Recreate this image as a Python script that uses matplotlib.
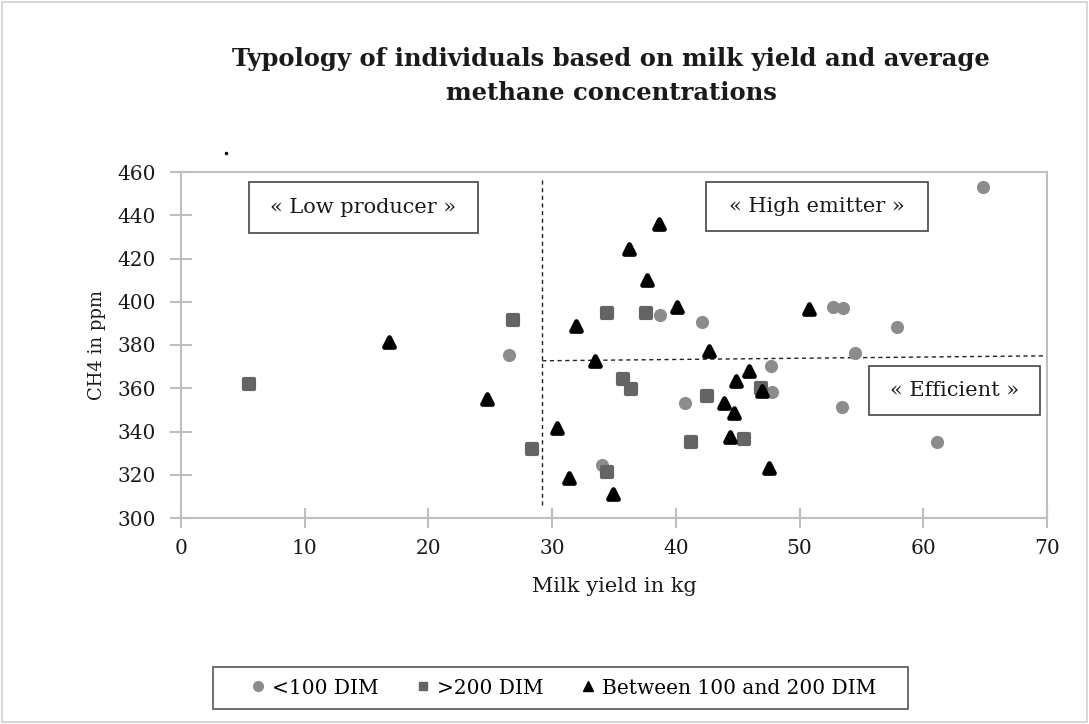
import matplotlib
matplotlib.use("Agg")
import matplotlib.pyplot as plt
from matplotlib.patches import Rectangle
from matplotlib.lines import Line2D

plt.rcParams['font.family'] = ['DejaVu Serif', 'Liberation Serif']

# <100 DIM (grey circles)
dim_lt100_x = [64.8, 26.5, 38.7, 42.1, 52.7, 53.5, 57.9, 54.5, 47.7, 47.8, 53.4, 61.1, 40.7, 34.0]
dim_lt100_y = [453.0, 375.4, 393.9, 390.6, 397.5, 397.2, 388.3, 376.3, 370.3, 358.3, 351.3, 335.1, 353.2, 324.5]

# >200 DIM (dark grey squares)
dim_gt200_x = [5.5, 26.8, 34.4, 37.6, 28.4, 35.7, 36.4, 34.4, 42.5, 41.2, 45.5, 46.9]
dim_gt200_y = [362.0, 391.6, 394.8, 394.8, 331.9, 364.3, 359.6, 321.3, 356.4, 335.1, 336.5, 360.1]

# Between 100 and 200 DIM (black triangles)
dim_mid_x = [16.8, 24.7, 38.6, 36.2, 37.7, 40.1, 31.9, 42.7, 33.5, 30.4, 31.4, 34.9,
             50.8, 45.9, 44.9, 47.0, 43.9, 44.7, 44.4, 47.5]
dim_mid_y = [381.4, 355.0, 436.0, 424.4, 410.0, 397.6, 388.8, 377.0, 372.6, 341.6, 318.5, 311.1,
             396.6, 368.0, 363.4, 358.7, 353.2, 348.6, 337.5, 323.1]

series_labels = ["<100 DIM", ">200 DIM", "Between 100 and 200 DIM"]
x_ticks = [0, 10, 20, 30, 40, 50, 60, 70]
y_ticks = [300, 320, 340, 360, 380, 400, 420, 440, 460]

W, H = 1089, 724
fig = plt.figure(figsize=(W / 100, H / 100), dpi=100)
fig.patch.set_facecolor('white')
fig.add_artist(Rectangle((2 / W, 2 / H), 1 - 4 / W, 1 - 4 / H, transform=fig.transFigure,
                         fill=False, edgecolor='#d0d0d0', linewidth=1.2))

ax = fig.add_axes([181 / W, 1 - 518 / H, 866 / W, 346 / H])
ax.set_xlim(0, 70)
ax.set_ylim(300, 460)

c1, c2, c3 = '#8c8c8c', '#646464', '#000000'
ax.scatter(dim_lt100_x, dim_lt100_y, s=90, marker='o', color=c1, linewidths=0, zorder=3,
           label=series_labels[0])
sq = ax.scatter(dim_gt200_x, dim_gt200_y, s=62, marker='s', color=c2, edgecolors=c2, linewidths=3,
                zorder=3, label=series_labels[1])
sq.set_joinstyle('round')
tr = ax.scatter(dim_mid_x, dim_mid_y, s=50, marker='^', color=c3, edgecolors=c3, linewidths=3.5,
                zorder=4, label=series_labels[2])
tr.set_joinstyle('round')

# Quadrant lines
ax.plot([29.2, 29.2], [306, 457.5], ls=(0, (3, 2.5)), color='#222222', lw=1.0, zorder=2)
ax.plot([29.2, 70], [372.7, 375.0], ls=(0, (3, 2.5)), color='#222222', lw=1.0, zorder=2)

# Quadrant labels
def box_label(x0, x1, y0, y1, text):
    ax.add_patch(Rectangle((x0, y0), x1 - x0, y1 - y0, fill=True, facecolor='white',
                           edgecolor='#444444', lw=1.2, zorder=5))
    ax.text((x0 + x1) / 2, (y0 + y1) / 2, text, ha='center', va='center', fontsize=15,
            color='#1a1a1a', zorder=6)

box_label(5.5, 24.0, 431.8, 455.4, "« Low producer »")
box_label(42.4, 60.4, 432.6, 455.4, "« High emitter »")
box_label(55.6, 69.4, 347.5, 370.3, "« Efficient »")

for side in ['left', 'bottom', 'top', 'right']:
    ax.spines[side].set_color('#bfbfbf')
    ax.spines[side].set_linewidth(1.5)
ax.set_xticks(x_ticks)
ax.set_yticks(y_ticks)
ax.tick_params(axis='x', direction='inout', length=14, width=1.5, color='#bfbfbf',
               labelsize=14.5, pad=8, labelcolor='#1a1a1a')
ax.tick_params(axis='y', direction='inout', length=16, width=1.5, color='#bfbfbf',
               labelsize=14.5, pad=10, labelcolor='#1a1a1a')
ax.set_xlabel("Milk yield in kg", fontsize=15, color='#1a1a1a', labelpad=14)
ax.set_ylabel("CH4 in ppm", fontsize=13, color='#1a1a1a', labelpad=8)

fig.text(611 / W, 1 - 76 / H,
         "Typology of individuals based on milk yield and average\nmethane concentrations",
         ha='center', va='center', fontsize=17.5, fontweight='bold', color='#1a1a1a',
         linespacing=1.5)

fig.add_artist(Line2D([226 / W], [1 - 153 / H], marker='o', markersize=1.5, color='black',
                      transform=fig.transFigure))

handles = [
    Line2D([], [], ls='none', marker='o', markersize=7, color=c1),
    Line2D([], [], ls='none', marker='s', markersize=6, color=c2),
    Line2D([], [], ls='none', marker='^', markersize=7, color=c3),
]
leg = fig.legend(handles, series_labels, loc='center', bbox_to_anchor=(563 / W, 1 - 688 / H),
                 ncol=3, frameon=False, fontsize=14.5, handlelength=0.8,
                 handletextpad=0.3, columnspacing=1.8, borderpad=0.5)
fig.add_artist(Rectangle((213 / W, 1 - 709 / H), (908 - 213) / W, 42 / H,
                         transform=fig.transFigure, fill=False, edgecolor='#555555',
                         linewidth=1.2))

fig.savefig("out.png", dpi=100, facecolor='white')
